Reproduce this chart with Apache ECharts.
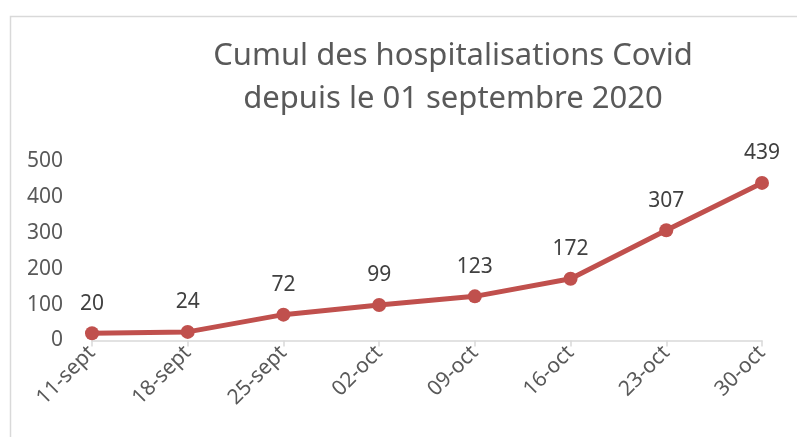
<!DOCTYPE html>
<html>
<head>
<meta charset="utf-8">
<script src="https://cdn.jsdelivr.net/npm/echarts@6/dist/echarts.min.js"></script>
<style>html,body{margin:0;padding:0;background:#fff}#c{width:797px;height:437px}</style>
</head>
<body>
<div id="c"></div>
<script>
const categories = ['11-sept','18-sept','25-sept','02-oct','09-oct','16-oct','23-oct','30-oct'];
const values = [20, 24, 72, 99, 123, 172, 307, 439];
const yTicks = [0, 100, 200, 300, 400, 500];
const titleText = 'Cumul des hospitalisations Covid\ndepuis le 01 septembre 2020';

const font = '"Noto Sans", "Open Sans", sans-serif';
const chart = echarts.init(document.getElementById('c'), null, {renderer: 'canvas'});
chart.setOption({
  animation: false,
  backgroundColor: '#fff',
  graphic: [{
    type: 'rect', shape: {x: 10.5, y: 16.5, width: 800, height: 430},
    style: {fill: 'none', stroke: '#d9d9d9', lineWidth: 1.5}, silent: true
  }],
  title: {
    text: titleText, left: 448, top: 30, textAlign: 'center',
    textStyle: {fontFamily: font, fontSize: 31, fontWeight: 'normal', color: '#595959', lineHeight: 43}
  },
  grid: {left: 92, right: 35, top: 161, bottom: 96.5, containLabel: false},
  xAxis: {
    type: 'category', data: categories, boundaryGap: false,
    axisLine: {lineStyle: {color: '#d9d9d9', width: 1.5}},
    axisTick: {show: true, length: 6, lineStyle: {color: '#d9d9d9', width: 1.5}},
    axisLabel: {rotate: 45, margin: 9, color: '#595959', fontFamily: font, fontSize: 21, interval: 0}
  },
  yAxis: {
    type: 'value', min: yTicks[0], max: yTicks[yTicks.length - 1], interval: 100,
    axisLine: {show: false}, axisTick: {show: false}, splitLine: {show: false},
    axisLabel: {margin: 29, color: '#595959', fontFamily: font, fontSize: 21}
  },
  series: [{
    type: 'line', data: values,
    symbol: 'circle', symbolSize: 14,
    lineStyle: {color: '#C0504D', width: 5},
    itemStyle: {color: '#C0504D'},
    label: {show: true, position: 'top', distance: 12, color: '#404040', fontFamily: font, fontSize: 21}
  }]
});
</script>
</body>
</html>
